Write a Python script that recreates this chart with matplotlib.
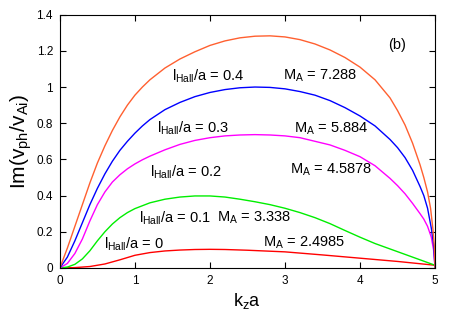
import matplotlib
matplotlib.use('Agg')
import matplotlib.pyplot as plt

plt.rcParams['font.family'] = ['Liberation Sans', 'DejaVu Sans']
plt.rcParams['mathtext.fontset'] = 'custom'
plt.rcParams['mathtext.rm'] = 'Liberation Sans'
plt.rcParams['mathtext.it'] = 'Liberation Sans'

# curves (k_z a, Im(v_ph/v_Ai))
x_04 = [0, 0.1, 0.2, 0.3, 0.4, 0.5, 0.6, 0.7, 0.8, 0.9, 1.0, 1.1, 1.2, 1.4, 1.6, 1.8, 2.0, 2.2, 2.4, 2.6, 2.8,
        3.0, 3.2, 3.4, 3.6, 3.8, 4.0, 4.2, 4.4, 4.5, 4.6, 4.7, 4.8, 4.85, 4.9, 4.94, 4.97, 4.99, 5.0]
y_04 = [0, 0.11, 0.23, 0.35, 0.47, 0.58, 0.675, 0.76, 0.835, 0.9, 0.955, 1.0, 1.04, 1.105, 1.155, 1.195, 1.23, 1.255, 1.272, 1.281, 1.283,
        1.277, 1.262, 1.238, 1.205, 1.163, 1.11, 1.04, 0.94, 0.87, 0.79, 0.69, 0.57, 0.50, 0.42, 0.33, 0.22, 0.12, 0.0]

x_03 = [0, 0.1, 0.2, 0.3, 0.4, 0.5, 0.6, 0.7, 0.8, 0.9, 1.0, 1.1, 1.2, 1.4, 1.6, 1.8, 2.0, 2.2, 2.4, 2.6, 2.8,
        3.0, 3.2, 3.4, 3.6, 3.8, 4.0, 4.2, 4.4, 4.5, 4.6, 4.7, 4.8, 4.85, 4.9, 4.95, 4.98, 5.0]
y_03 = [0, 0.06, 0.15, 0.25, 0.35, 0.44, 0.52, 0.59, 0.65, 0.70, 0.745, 0.785, 0.82, 0.875, 0.915, 0.947, 0.97, 0.986, 0.996, 1.0, 0.998,
        0.99, 0.975, 0.955, 0.925, 0.886, 0.84, 0.785, 0.71, 0.665, 0.61, 0.54, 0.45, 0.40, 0.33, 0.22, 0.13, 0.0]

x_02 = [0, 0.1, 0.2, 0.3, 0.4, 0.5, 0.6, 0.7, 0.8, 0.9, 1.0, 1.1, 1.2, 1.4, 1.6, 1.8, 2.0, 2.2, 2.4, 2.6, 2.8,
        3.0, 3.2, 3.4, 3.6, 3.8, 4.0, 4.2, 4.4, 4.5, 4.6, 4.7, 4.8, 4.85, 4.9, 4.95, 4.98, 5.0]
y_02 = [0, 0.025, 0.08, 0.16, 0.26, 0.35, 0.42, 0.475, 0.515, 0.548, 0.575, 0.598, 0.618, 0.653, 0.683, 0.705, 0.72, 0.73, 0.735, 0.737, 0.735,
        0.73, 0.72, 0.70, 0.68, 0.65, 0.615, 0.565, 0.495, 0.455, 0.41, 0.357, 0.30, 0.27, 0.23, 0.17, 0.10, 0.0]

x_01 = [0, 0.1, 0.2, 0.3, 0.4, 0.5, 0.6, 0.7, 0.8, 0.9, 1.0, 1.2, 1.4, 1.6, 1.8, 2.0, 2.2, 2.4, 2.6, 2.8,
        3.0, 3.2, 3.4, 3.6, 3.8, 4.0, 4.2, 4.4, 4.6, 4.8, 5.0]
y_01 = [0, 0.005, 0.02, 0.05, 0.095, 0.15, 0.2, 0.243, 0.278, 0.306, 0.328, 0.36, 0.38, 0.392, 0.398, 0.398, 0.392, 0.38, 0.366, 0.35,
        0.33, 0.306, 0.278, 0.245, 0.207, 0.17, 0.135, 0.105, 0.075, 0.045, 0.015]

x_00 = [0, 0.2, 0.4, 0.6, 0.8, 1.0, 1.2, 1.4, 1.6, 1.8, 2.0, 2.2, 2.5, 3.0, 3.5, 4.0, 4.5, 5.0]
y_00 = [0, 0.002, 0.008, 0.022, 0.045, 0.07, 0.085, 0.094, 0.099, 0.102, 0.103, 0.102, 0.098, 0.089, 0.072, 0.054, 0.036, 0.015]

colors = ['#ff0000', '#00ee00', '#ff00ff', '#0000ff', '#ff6030']
hall_labels = ['0', '0.1', '0.2', '0.3', '0.4']
ma_labels = ['2.4985', '3.338', '4.5878', '5.884', '7.288']
hall_pos = [(0.59, 0.133), (1.05, 0.277), (1.2, 0.53), (1.3, 0.77), (1.5, 1.06)]
ma_pos = [(2.71, 0.137), (2.1, 0.277), (3.07, 0.54), (3.12, 0.77), (2.98, 1.06)]

fig = plt.figure(figsize=(4.57, 3.19), dpi=100)
ax = fig.add_axes([0.131, 0.160, 0.821, 0.794])

curves = [(x_00, y_00), (x_01, y_01), (x_02, y_02), (x_03, y_03), (x_04, y_04)]
for (xs, ys), c in zip(curves, colors):
    ax.plot(xs, ys, color=c, lw=1.0)

for h, m, hp, mp in zip(hall_labels, ma_labels, hall_pos, ma_pos):
    ax.text(hp[0], hp[1], r'l$_{\mathregular{Hall}}$/a = ' + h, fontsize=10.5, va='center')
    ax.text(mp[0], mp[1], r'M$_{\mathregular{A}}$ = ' + m, fontsize=10.5, va='center')

ax.text(4.37, 1.235, '(b)', fontsize=10.5, va='center')

ax.set_xlim(0, 5)
ax.set_ylim(0, 1.4)
ax.set_xticks([0, 1, 2, 3, 4, 5])
ax.set_yticks([0, 0.2, 0.4, 0.6, 0.8, 1, 1.2, 1.4])
ax.set_yticklabels(['0', '0.2', '0.4', '0.6', '0.8', '1', '1.2', '1.4'])
ax.tick_params(direction='in', top=True, right=True, length=4, labelsize=8.5, pad=5)

ax.set_xlabel(r'k$_{\mathregular{z}}$a', fontsize=13, labelpad=3)
ax.set_ylabel(r'Im(v$_{\mathregular{ph}}$/v$_{\mathregular{Ai}}$)', fontsize=15, labelpad=2)

fig.savefig('out.png', dpi=100)
